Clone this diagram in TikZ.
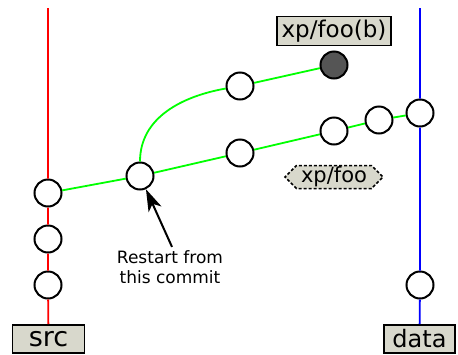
\documentclass[tikz,border=0pt]{standalone}
\usepackage{fontspec}
\setmainfont{DejaVu Sans}
\usetikzlibrary{arrows.meta,shapes.symbols}
\definecolor{boxgray}{RGB}{216,216,204}
\definecolor{headgray}{RGB}{85,85,85}

\tikzset{
	commit/.style = {circle, draw, line width=2pt, fill=white, minimum size=27pt, inner sep=0pt},
	branch/.style = {draw, line width=1.8pt, fill=boxgray, inner sep=0pt, minimum height=28pt},
	line/.style = {line width=1.8pt},
}

\begin{document}
\begin{tikzpicture}[x=1pt, y=-1pt]
	\useasboundingbox (0,0) rectangle (458,354);
	\coordinate (srctop) at (48,8);
	\coordinate (datatop) at (420,8);
	\node [branch, minimum width=72pt] (src) at (48.5,339) {\fontsize{27}{30}\selectfont src\hspace{10pt}};
	\node [branch, minimum width=71pt] (data) at (419.5,339) {\fontsize{24}{28}\selectfont data};
	\node [branch, minimum width=114pt, minimum height=29pt] (xpb) at (334,31) {\fontsize{23}{27}\selectfont xp/foo(b)};
	\node [draw, densely dashed, line width=1.5pt, fill=boxgray, signal, signal to=west and east, minimum width=98pt, minimum height=23pt, inner sep=0pt] (xp) at (334,177) {\fontsize{21}{24}\selectfont xp/foo};
	\node [commit] (s1) at (48,193) {};
	\node [commit] (s2) at (48,239) {};
	\node [commit] (s3) at (48,285) {};
	\node [commit] (restart) at (140,176) {};
	\node [commit] (u1) at (240,86) {};
	\node [commit, fill=headgray] (u2) at (334,65) {};
	\node [commit] (l1) at (240,153) {};
	\node [commit] (l2) at (334,131) {};
	\node [commit] (l3) at (379,120) {};
	\node [commit] (d1) at (420,113) {};
	\node [commit] (d2) at (420,285) {};
	\node [align=center, font=\fontsize{17}{20}\selectfont] (note) at (170,267) {Restart from\\this commit};
	\draw [red, line] (srctop) -- (s1) -- (s2) -- (s3) -- (src);
	\draw [blue, line] (datatop) -- (d1) -- (d2) -- (data);
	\draw [green, line] (s1) -- (restart) -- (l1) -- (l2) -- (l3) -- (d1);
	\draw [green, line] (restart.north) to [out=90, in=190] (u1);
	\draw [green, line] (u1) -- (u2);
	\draw [-{Stealth[length=22pt, width=14pt, inset=6pt]}, line width=2pt] (note.north) ++(2,0) -- (restart);
\end{tikzpicture}
\end{document}
